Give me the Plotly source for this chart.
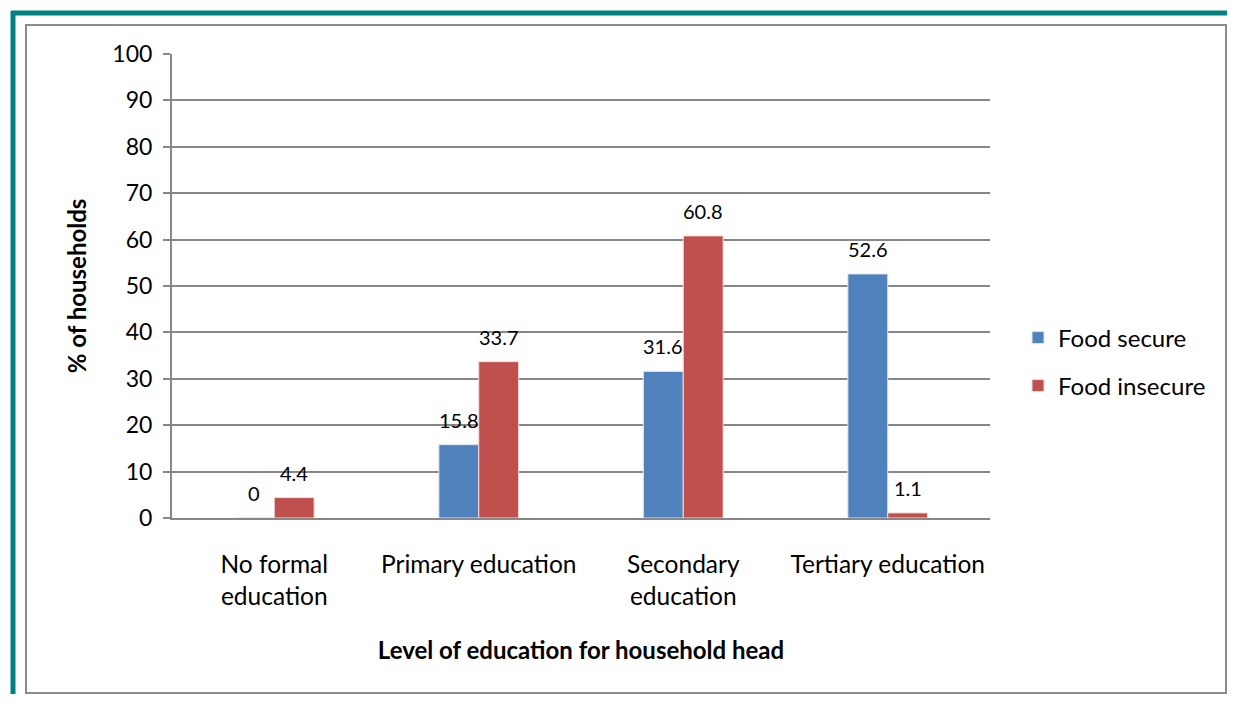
import plotly.graph_objects as go

categories = ["No formal<br>education", "Primary education", "Secondary<br>education", "Tertiary education"]
food_secure = [0, 15.8, 31.6, 52.6]
food_insecure = [4.4, 33.7, 60.8, 1.1]

# the page body has an 8px margin on every side; keep the figure inside the window
OFF = 8
W, H = 1235 - 2 * OFF, 702 - 2 * OFF
L, R, T, B = 172 - OFF, 990 - OFF, 54 - OFF, 518 - OFF  # plot area in figure pixels


def px(x):
    return (x - OFF - L) / (R - L)


def py(y):
    return (B - (y - OFF)) / (B - T)


FONT = "Lato"
GRID = "#878787"
BARGAP = 0.61

fig = go.Figure()
fig.add_trace(go.Bar(
    x=categories, y=food_secure, name="Food secure",
    marker=dict(color="#4F81BD", line=dict(color="#dfe6f0", width=1)),
    legend="legend",
))
fig.add_trace(go.Bar(
    x=categories, y=food_insecure, name="Food insecure",
    marker=dict(color="#C0504D", line=dict(color="#f0dede", width=1)),
    legend="legend2",
))

# data labels sit a little higher above the bars than plotly's "outside" text
half = (1 - BARGAP) / 4
for i, (a, b) in enumerate(zip(food_secure, food_insecure)):
    for xpos, v in ((i - half, a), (i + half, b)):
        fig.add_annotation(
            x=xpos, y=v, text=f"{v:g}", showarrow=False,
            yanchor="bottom", yshift=11, font=dict(size=20, color="black"),
        )

legend_style = dict(
    xanchor="left", yanchor="middle", bgcolor="rgba(0,0,0,0)",
    font=dict(family=FONT, size=24, color="black"),
)

fig.update_layout(
    width=W, height=H,
    margin=dict(l=L, r=W - R, t=T, b=H - B),
    paper_bgcolor="white", plot_bgcolor="white",
    font=dict(family=FONT, color="black"),
    showlegend=True,
    barmode="group", bargap=BARGAP, bargroupgap=0,
    legend=dict(x=px(1018), y=py(338), **legend_style),
    legend2=dict(x=px(1018), y=py(386), **legend_style),
    xaxis=dict(
        showline=True, linecolor=GRID, linewidth=2,
        ticks="", tickfont=dict(size=24.5), ticklabelstandoff=24,
        title=dict(text="<b>Level of education for household head</b>",
                   font=dict(size=24), standoff=33),
    ),
    yaxis=dict(
        range=[0, 100], dtick=10, showgrid=True, gridcolor=GRID, gridwidth=1.5,
        showline=True, linecolor=GRID, linewidth=2,
        ticks="outside", ticklen=7, tickcolor=GRID, tickwidth=1.5,
        tickfont=dict(size=23), ticklabelstandoff=6, zeroline=False,
        title=dict(text="<b>% of households</b>", font=dict(size=24), standoff=19),
    ),
)

# outer teal frame (top and left) and inner grey chart border
teal = "#008080"
fig.add_shape(type="line", xref="paper", yref="paper",
              x0=px(11), x1=px(1240), y0=py(13), y1=py(13),
              line=dict(color=teal, width=5))
fig.add_shape(type="line", xref="paper", yref="paper",
              x0=px(13), x1=px(13), y0=py(11), y1=py(710),
              line=dict(color=teal, width=5))
fig.add_shape(type="rect", xref="paper", yref="paper",
              x0=px(26), x1=px(1226), y0=py(25), y1=py(693),
              line=dict(color="#8c8c8c", width=2))

fig.write_html("out.html")
